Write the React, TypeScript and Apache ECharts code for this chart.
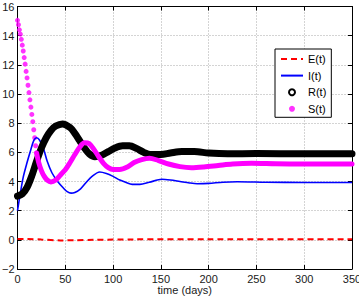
import React, { useEffect, useRef } from 'react';
import * as echarts from 'echarts';

// x axis ticks (days) and y axis ticks
const xTickMin = 0;
const xTickMax = 350;
const xTickStep = 50;
const yTickMin = -2;
const yTickMax = 16;
const yTickStep = 2;

// E(t): exposed
const eDays = [0, 10, 25, 45, 60, 80, 120, 200, 350];
const eVals = [0.06, 0.06, 0.02, -0.04, -0.03, 0.0, 0.03, 0.04, 0.04];

// I(t): infected
const iDays = [0, 3, 6, 10, 14, 17, 20, 23, 27, 31, 36, 42, 48, 52, 56, 60, 66, 72, 78, 86, 93, 100, 107, 113, 120, 128, 138, 151, 160, 170, 180, 188, 200, 215, 230, 260, 300, 350];
const iVals = [2.0, 3.2, 4.3, 5.3, 6.2, 6.8, 7.0, 6.85, 6.3, 5.4, 4.6, 4.0, 3.55, 3.3, 3.2, 3.25, 3.5, 3.95, 4.35, 4.65, 4.55, 4.35, 4.1, 3.95, 3.8, 3.8, 3.95, 4.15, 4.1, 4.0, 3.9, 3.85, 3.87, 3.95, 3.98, 3.95, 3.93, 3.93];

// R(t): recovered
const rDays = [0, 5, 10, 15, 20, 25, 30, 35, 40, 47, 55, 60, 65, 70, 75, 81, 88, 95, 102, 110, 117, 125, 132, 140, 150, 160, 172, 185, 200, 220, 250, 300, 350];
const rVals = [3.0, 3.15, 3.6, 4.4, 5.4, 6.3, 7.0, 7.5, 7.8, 7.95, 7.7, 7.3, 6.8, 6.3, 5.9, 5.7, 5.8, 6.05, 6.3, 6.45, 6.45, 6.25, 6.0, 5.85, 5.85, 5.95, 6.05, 6.05, 5.95, 5.9, 5.92, 5.9, 5.9];

// S(t): susceptible, fast initial drop (separate markers)
const sDotDays = [0, 1, 2, 3, 4, 5, 6, 7, 8, 9, 10, 11, 12, 13, 14, 15, 16, 17, 18, 19, 20];
const sDotVals = [15.05, 14.75, 14.4, 14.1, 13.75, 13.35, 12.95, 12.5, 12.05, 11.55, 11.1, 10.6, 10.1, 9.6, 9.1, 8.6, 8.1, 7.55, 7.0, 6.45, 5.95];

// S(t): remainder (markers merge into a thick line)
const sLineDays = [20, 22, 25, 28, 31, 35, 40, 45, 50, 55, 60, 65, 70, 75, 80, 85, 90, 95, 100, 107, 115, 122, 130, 138, 147, 158, 170, 182, 195, 210, 225, 245, 270, 300, 350];
const sLineVals = [5.95, 5.35, 4.75, 4.35, 4.1, 3.97, 4.1, 4.45, 4.8, 5.3, 5.85, 6.35, 6.65, 6.6, 6.2, 5.7, 5.25, 4.95, 4.82, 4.82, 5.0, 5.3, 5.5, 5.6, 5.45, 5.2, 5.02, 4.95, 5.0, 5.1, 5.2, 5.25, 5.22, 5.2, 5.2];

const legendNames = ['E(t)', 'I(t)', 'R(t)', 'S(t)'];
const xAxisTitle = 'time (days)';

const pairs = (xs: number[], ys: number[]) => xs.map((x, k) => [x, ys[k]]);

const FONT = '"Liberation Sans", Arial, Helvetica, sans-serif';

export default function App() {
  const ref = useRef<HTMLDivElement>(null);

  useEffect(() => {
    if (!ref.current) return;
    const chart = echarts.init(ref.current, undefined, { renderer: 'svg' });

    const gridLine = { show: true, lineStyle: { color: '#a8a8a8', width: 1, type: [1, 2] } };
    const axisLineStyle = { show: true, onZero: false, lineStyle: { color: '#000', width: 1 } };
    const tick = { show: true, inside: true, length: 4, lineStyle: { color: '#000', width: 1 } };
    const labelStyle = { color: '#1a1a1a', fontSize: 11, fontFamily: FONT };

    chart.setOption({
      animation: false,
      backgroundColor: '#fff',
      grid: {
        left: 17.5,
        right: 7,
        top: 6.5,
        bottom: 29,
        containLabel: false,
        outerBoundsMode: 'none',
      },
      legend: {
        orient: 'vertical',
        left: 275,
        top: 49,
        padding: [4.5, 5, 3, 5],
        itemWidth: 22,
        itemHeight: 6,
        itemGap: 5.6,
        borderColor: '#000',
        borderWidth: 1,
        backgroundColor: '#fff',
        selectedMode: false,
        textStyle: { color: '#000', fontSize: 11, fontFamily: FONT },
        data: [
          { name: legendNames[0], itemStyle: { opacity: 0 } },
          { name: legendNames[1], itemStyle: { opacity: 0 } },
          { name: legendNames[2], icon: 'circle', itemStyle: { color: '#fff', borderColor: '#000', borderWidth: 2 } },
          { name: legendNames[3], icon: 'circle', itemStyle: { color: '#ff00ff', borderWidth: 0 } },
        ],
      },
      xAxis: [
        {
          type: 'value',
          min: xTickMin,
          max: xTickMax,
          interval: xTickStep,
          position: 'bottom',
          name: xAxisTitle,
          nameLocation: 'middle',
          nameGap: 15,
          nameMoveOverlap: false,
          nameTextStyle: { color: '#1a1a1a', fontSize: 11, fontFamily: FONT },
          axisLine: axisLineStyle,
          axisTick: tick,
          axisLabel: { ...labelStyle, margin: 4 },
          splitLine: gridLine,
        },
        {
          type: 'value',
          min: xTickMin,
          max: xTickMax,
          interval: xTickStep,
          position: 'top',
          axisLine: axisLineStyle,
          axisTick: tick,
          axisLabel: { show: false },
          splitLine: { show: false },
        },
      ],
      yAxis: [
        {
          type: 'value',
          min: yTickMin,
          max: yTickMax,
          interval: yTickStep,
          position: 'left',
          axisLine: axisLineStyle,
          axisTick: tick,
          axisLabel: {
            ...labelStyle,
            margin: 3,
            formatter: (v: number) => String(v).replace('-', '\u2212'),
          },
          splitLine: gridLine,
        },
        {
          type: 'value',
          min: yTickMin,
          max: yTickMax,
          interval: yTickStep,
          position: 'right',
          axisLine: axisLineStyle,
          axisTick: tick,
          axisLabel: { show: false },
          splitLine: { show: false },
        },
      ],
      series: [
        {
          name: legendNames[0],
          type: 'line',
          data: pairs(eDays, eVals),
          smooth: 0.3,
          symbol: 'none',
          lineStyle: { color: '#ff0000', width: 2, type: [6, 4] },
          itemStyle: { color: '#ff0000' },
        },
        {
          name: legendNames[1],
          type: 'line',
          data: pairs(iDays, iVals),
          smooth: 0.3,
          symbol: 'none',
          lineStyle: { color: '#0000ff', width: 1.6 },
          itemStyle: { color: '#0000ff' },
        },
        {
          name: legendNames[2],
          type: 'line',
          data: pairs(rDays, rVals),
          smooth: 0.3,
          symbol: 'none',
          lineStyle: { color: '#000', width: 7, cap: 'round', join: 'round' },
          itemStyle: { color: '#000' },
        },
        {
          name: legendNames[3],
          type: 'scatter',
          data: pairs(sDotDays, sDotVals),
          symbol: 'circle',
          symbolSize: 5,
          itemStyle: { color: '#ff00ff' },
        },
        {
          name: legendNames[3],
          type: 'line',
          data: pairs(sLineDays, sLineVals),
          smooth: 0.3,
          symbol: 'none',
          lineStyle: { color: '#ff00ff', width: 5, cap: 'round', join: 'round' },
          itemStyle: { color: '#ff00ff' },
        },
      ],
    });

    return () => chart.dispose();
  }, []);

  return (
    <div
      ref={ref}
      style={{ position: 'fixed', left: 0, top: 0, width: 359, height: 298, background: '#fff' }}
    />
  );
}
